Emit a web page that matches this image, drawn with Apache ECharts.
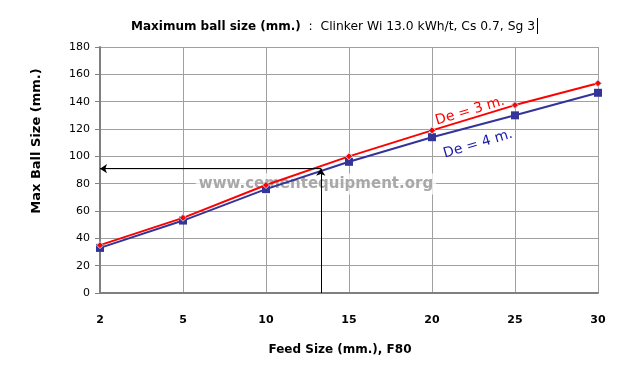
<!DOCTYPE html>
<html><head><meta charset="utf-8">
<script src="https://cdn.jsdelivr.net/npm/echarts@6/dist/echarts.min.js"></script>
<style>html,body{margin:0;padding:0;background:#fff}#c{width:634px;height:366px}</style>
</head><body><div id="c"></div>
<script>
var feedSizes = ['2', '5', '10', '15', '20', '25', '30'];
var ballDe3 = [35, 55, 79, 100, 119, 137.5, 153.5];
var ballDe4 = [33, 53, 76, 96, 114, 130, 146.5];
var yTicks = { min: 0, max: 180, interval: 20 };
var readOff = { feed: 13.3, ball: 91 };

// fractional category index for the read-off feed size
function feedIndex(v) {
  var nums = feedSizes.map(Number);
  for (var i = 0; i < nums.length - 1; i++) {
    if (v >= nums[i] && v <= nums[i + 1]) return i + (v - nums[i]) / (nums[i + 1] - nums[i]);
  }
  return 0;
}
var fi = feedIndex(readOff.feed);
var F = 'DejaVu Sans';

var chart = echarts.init(document.getElementById('c'));
chart.setOption({
  animation: false,
  backgroundColor: '#fff',
  title: {
    left: 126, top: 16,
    text: '{b|Maximum ball size (mm.)}{n|  :  Clinker Wi 13.0 kWh/t, Cs 0.7, Sg 3}',
    textStyle: { fontWeight: 'normal', rich: {
      b: { fontFamily: F, fontWeight: 'bold', fontSize: 12, color: '#000' },
      n: { fontFamily: F, fontWeight: 'normal', fontSize: 12.3, color: '#000' }
    } }
  },
  grid: { left: 100, right: 36, top: 47, bottom: 73 },
  xAxis: [{
    type: 'category', data: feedSizes, boundaryGap: false,
    axisLine: { lineStyle: { color: '#808080', width: 2 } },
    axisTick: { show: false },
    axisLabel: { fontFamily: F, fontWeight: 'bold', fontSize: 11, color: '#000', margin: 22 },
    splitLine: { show: true, lineStyle: { color: '#a0a0a0', width: 1 } },
    name: 'Feed Size (mm.), F80', nameLocation: 'middle', nameGap: 51,
    nameTextStyle: { fontFamily: F, fontWeight: 'bold', fontSize: 12, color: '#000', padding: [0, 18, 0, 0] }
  }, {
    type: 'value', min: 0, max: feedSizes.length - 1, show: false
  }],
  yAxis: {
    type: 'value', min: yTicks.min, max: yTicks.max, interval: yTicks.interval,
    axisLine: { show: true, lineStyle: { color: '#808080', width: 2 } },
    axisTick: { show: true, length: 5, lineStyle: { color: '#808080' } },
    axisLabel: { fontFamily: F, fontSize: 11, color: '#000', margin: 10 },
    splitLine: { lineStyle: { color: '#a0a0a0', width: 1 } }
  },
  graphic: [
    { type: 'text', x: 37, y: 141, rotation: Math.PI / 2, style: { text: 'Max Ball Size (mm.)', fontFamily: F, fontWeight: 'bold', fontSize: 13, fill: '#000', align: 'center', verticalAlign: 'middle' } },
    { type: 'text', x: 316, y: 184, z: 1, style: { text: 'www.cementequipment.org', fontFamily: F, fontWeight: 'bold', fontSize: 15, fill: '#a8a8a8', align: 'center', verticalAlign: 'middle', backgroundColor: 'rgba(255,255,255,0.75)', padding: [3, 3, 3, 3] } },
    { type: 'text', x: 470, y: 111, rotation: 0.29, z: 20, style: { text: 'De = 3 m.', fontFamily: F, fontSize: 14, fill: '#ff0000', align: 'center', verticalAlign: 'middle' } },
    { type: 'text', x: 478, y: 144, rotation: 0.29, z: 20, style: { text: 'De = 4 m.', fontFamily: F, fontSize: 14, fill: '#1a1aaa', align: 'center', verticalAlign: 'middle' } },
    { type: 'rect', shape: { x: 537, y: 18, width: 1, height: 16 }, style: { fill: '#000' } }
  ],
  series: [
    {
      name: 'De = 4 m.', type: 'line', data: ballDe4, z: 3,
      symbol: 'rect', symbolSize: 8,
      lineStyle: { color: '#333399', width: 2 },
      itemStyle: { color: '#333399' }
    },
    {
      name: 'De = 3 m.', type: 'line', data: ballDe3, z: 4,
      symbol: 'diamond', symbolSize: 7,
      lineStyle: { color: '#ff0000', width: 2 },
      itemStyle: { color: '#ff0000', borderColor: '#b8d8e8', borderWidth: 1 }
    },
    {
      type: 'line', xAxisIndex: 1, z: 5, symbol: 'none', silent: true,
      data: [[fi, readOff.ball], [0, readOff.ball]],
      lineStyle: { color: '#000', width: 1 },
      markLine: {
        symbol: ['none', 'arrow'], symbolSize: 7, silent: true, label: { show: false },
        lineStyle: { color: '#000', width: 1, type: 'solid' },
        data: [
          [{ coord: [fi, readOff.ball] }, { coord: [0, readOff.ball] }],
          [{ coord: [fi, 0] }, { coord: [fi, readOff.ball] }]
        ]
      }
    }
  ]
});
</script></body></html>
